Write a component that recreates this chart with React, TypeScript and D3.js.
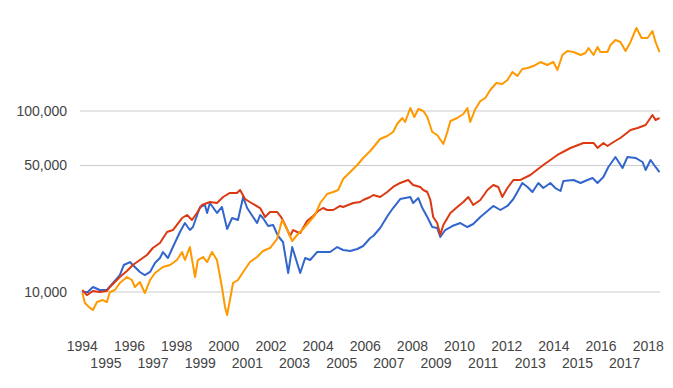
import React from 'react';
import * as d3 from 'd3';

const WIDTH = 673;
const HEIGHT = 388;

// [year, value], log scale
const seriesBlue: [number, number][] = [
  [1994.0, 10000], [1994.23, 10000], [1994.45, 10660], [1994.74, 10260], [1995.04, 10260],
  [1995.3, 11210], [1995.59, 12410], [1995.76, 14100], [1996.02, 14640], [1996.14, 14100],
  [1996.44, 12900], [1996.65, 12410], [1996.87, 12900], [1997.08, 14460], [1997.29, 15410],
  [1997.42, 16630], [1997.63, 15410], [1997.84, 17720], [1998.14, 21450], [1998.35, 24050],
  [1998.56, 22000], [1998.69, 22860], [1998.99, 29490], [1999.2, 30250], [1999.29, 27320],
  [1999.41, 31030], [1999.71, 27320], [1999.92, 29490], [2000.14, 22280], [2000.35, 25630],
  [2000.6, 24990], [2000.82, 33490], [2000.99, 29110], [2001.24, 25960], [2001.41, 24050],
  [2001.54, 26630], [2001.66, 25630], [2001.88, 23150], [2002.09, 23450], [2002.3, 20390],
  [2002.51, 18890], [2002.73, 12730], [2002.9, 17720], [2003.24, 12730], [2003.45, 15410],
  [2003.66, 15020], [2003.96, 16630], [2004.21, 16630], [2004.51, 16630], [2004.81, 17720],
  [2005.06, 17060], [2005.36, 16840], [2005.66, 17280], [2005.91, 17950], [2006.21, 19880],
  [2006.34, 20390], [2006.63, 22570], [2006.97, 26630], [2007.18, 29110], [2007.48, 32640],
  [2007.91, 33490], [2008.03, 31030], [2008.25, 33060], [2008.42, 29110], [2008.63, 25960],
  [2008.84, 22860], [2009.05, 22570], [2009.18, 20130], [2009.39, 22000], [2009.69, 23150],
  [2010.03, 24050], [2010.33, 22860], [2010.58, 23750], [2010.88, 25960], [2011.18, 28020],
  [2011.43, 29870], [2011.73, 28380], [2012.03, 29870], [2012.28, 32640], [2012.45, 35680],
  [2012.66, 40030], [2012.88, 38040], [2013.09, 35680], [2013.34, 40030], [2013.55, 37540],
  [2013.85, 40030], [2014.06, 37540], [2014.28, 36140], [2014.4, 41050], [2014.83, 41580],
  [2015.13, 40030], [2015.42, 41580], [2015.64, 42650], [2015.85, 40030], [2016.1, 43200],
  [2016.31, 49050], [2016.61, 55700], [2016.91, 48430], [2017.12, 55700], [2017.46, 55000],
  [2017.76, 52270], [2017.89, 47210], [2018.1, 53620], [2018.31, 49050], [2018.48, 46020],
];

const seriesRed: [number, number][] = [
  [1994.0, 10260], [1994.19, 9620], [1994.45, 10130], [1994.74, 10000], [1995.04, 10130],
  [1995.17, 10660], [1995.59, 12100], [1995.89, 13060], [1996.14, 14100], [1996.44, 15020],
  [1996.74, 16010], [1996.99, 17500], [1997.29, 18650], [1997.59, 21450], [1997.84, 22000],
  [1998.23, 25630], [1998.44, 26630], [1998.65, 24990], [1998.86, 27320], [1999.07, 30250],
  [1999.41, 31420], [1999.71, 31020], [1999.97, 33490], [2000.26, 35240], [2000.56, 35240],
  [2000.69, 36600], [2000.9, 32640], [2001.24, 30640], [2001.54, 29110], [2001.75, 25960],
  [2001.96, 27670], [2002.26, 27670], [2002.43, 25960], [2002.6, 23450], [2002.81, 20390],
  [2002.94, 22000], [2003.11, 21450], [2003.24, 21180], [2003.53, 24670], [2003.79, 26290],
  [2004.0, 28020], [2004.21, 29110], [2004.38, 28380], [2004.64, 28380], [2004.93, 29870],
  [2005.06, 29490], [2005.49, 31030], [2005.78, 31420], [2005.91, 32230], [2006.21, 33490],
  [2006.34, 34350], [2006.63, 33490], [2006.93, 35680], [2007.18, 38040], [2007.48, 40030],
  [2007.82, 41580], [2008.03, 39020], [2008.33, 38040], [2008.46, 36600], [2008.63, 35680],
  [2008.76, 32230], [2008.88, 25960], [2009.05, 24050], [2009.18, 20650], [2009.31, 23450],
  [2009.61, 27320], [2009.9, 29490], [2010.16, 31420], [2010.37, 33490], [2010.58, 30250],
  [2010.88, 32230], [2011.18, 36600], [2011.43, 39020], [2011.64, 38040], [2011.81, 33490],
  [2012.03, 37540], [2012.28, 41580], [2012.58, 41580], [2013.0, 44310], [2013.55, 50320],
  [2014.15, 57140], [2014.7, 62460], [2015.25, 66570], [2015.68, 66570], [2015.85, 62460],
  [2016.1, 66570], [2016.27, 64080], [2016.53, 67420], [2016.82, 70940], [2017.25, 78520],
  [2017.55, 80550], [2017.89, 83700], [2018.18, 95040], [2018.31, 89180], [2018.48, 91480],
];

const seriesOrange: [number, number][] = [
  [1994.0, 9870], [1994.11, 8700], [1994.32, 8170], [1994.45, 7960], [1994.62, 8800],
  [1994.87, 9030], [1995.04, 8800], [1995.17, 10000], [1995.38, 10260], [1995.59, 11210],
  [1995.89, 12100], [1996.1, 11650], [1996.23, 10660], [1996.44, 11360], [1996.65, 9870],
  [1996.87, 11650], [1997.08, 12730], [1997.42, 13750], [1997.72, 14100], [1998.01, 15020],
  [1998.23, 16630], [1998.35, 15020], [1998.56, 17720], [1998.78, 12100], [1998.9, 15020],
  [1999.12, 15610], [1999.29, 14640], [1999.5, 16630], [1999.71, 15020], [1999.92, 10660],
  [2000.05, 8270], [2000.14, 7460], [2000.26, 9030], [2000.39, 11210], [2000.6, 11650],
  [2000.82, 12900], [2001.11, 14640], [2001.41, 15610], [2001.66, 16840], [2001.96, 17500],
  [2002.26, 19630], [2002.47, 24990], [2002.68, 22280], [2002.9, 19130], [2003.11, 20650],
  [2003.36, 22280], [2003.58, 24050], [2003.87, 26630], [2004.09, 31030], [2004.38, 34790],
  [2004.64, 35680], [2004.85, 36600], [2005.06, 42110], [2005.36, 46020], [2005.66, 50320],
  [2005.91, 55000], [2006.21, 60120], [2006.63, 70040], [2006.93, 72770], [2007.18, 76550],
  [2007.35, 84770], [2007.57, 91480], [2007.69, 86940], [2007.91, 103900], [2008.08, 92650],
  [2008.25, 102600], [2008.46, 100000], [2008.63, 92650], [2008.84, 76550], [2009.05, 73700],
  [2009.31, 65730], [2009.48, 76550], [2009.61, 88050], [2009.9, 91480], [2010.16, 96260],
  [2010.33, 103900], [2010.45, 86940], [2010.67, 102600], [2010.88, 113500], [2011.09, 118000],
  [2011.3, 130600], [2011.56, 142800], [2011.81, 141000], [2012.03, 148400], [2012.24, 164300],
  [2012.45, 156100], [2012.66, 170700], [2012.88, 172800], [2013.13, 177200], [2013.43, 186500],
  [2013.72, 179500], [2013.98, 186500], [2014.15, 168500], [2014.36, 203900], [2014.57, 214600],
  [2014.83, 211800], [2015.13, 203900], [2015.34, 209200], [2015.47, 222900], [2015.68, 203900],
  [2015.85, 225700], [2015.97, 211800], [2016.27, 211800], [2016.4, 231500], [2016.61, 246800],
  [2016.82, 240600], [2017.04, 214600], [2017.25, 240600], [2017.5, 287500], [2017.72, 253200],
  [2017.97, 253200], [2018.18, 276800], [2018.31, 240600], [2018.48, 211800],
];

const yTicks = [10000, 50000, 100000];
const xTickYears = [
  1994, 1995, 1996, 1997, 1998, 1999, 2000, 2001, 2002, 2003, 2004, 2005, 2006,
  2007, 2008, 2009, 2010, 2011, 2012, 2013, 2014, 2015, 2016, 2017, 2018,
];

const series = [
  { name: 'blue', color: '#3366cc', data: seriesBlue },
  { name: 'red', color: '#dc3912', data: seriesRed },
  { name: 'orange', color: '#ff9900', data: seriesOrange },
];

const PLOT_LEFT = 80;
const PLOT_RIGHT = 660;

const App: React.FC = () => {
  const x = d3.scaleLinear().domain([1993.9, 2018.5]).range([PLOT_LEFT, PLOT_RIGHT]);
  const y = d3.scaleLog().domain([10000, 100000]).range([292, 111]);
  const fmt = d3.format(',');

  const line = d3
    .line<[number, number]>()
    .x(d => x(d[0]))
    .y(d => y(d[1]));

  return (
    <svg
      width={WIDTH}
      height={HEIGHT}
      style={{ position: 'absolute', left: 0, top: 0, background: '#fff' }}
      fontFamily="'Liberation Sans', Arial, sans-serif"
    >
      {yTicks.map(t => (
        <g key={t}>
          <line x1={PLOT_LEFT} x2={PLOT_RIGHT} y1={y(t)} y2={y(t)} stroke="#cccccc" strokeWidth={1} />
          <text x={67} y={y(t) + 5} textAnchor="end" fontSize={14} fill="#444">
            {fmt(t)}
          </text>
        </g>
      ))}

      {series.map(s => (
        <path
          key={s.name}
          d={line(s.data) || ''}
          fill="none"
          stroke={s.color}
          strokeWidth={2}
          strokeLinejoin="round"
        />
      ))}

      {xTickYears.map((yr, i) => (
        <text
          key={yr}
          x={x(yr)}
          y={i % 2 === 0 ? 350.5 : 368}
          textAnchor="middle"
          fontSize={14}
          fill="#444"
        >
          {yr}
        </text>
      ))}
    </svg>
  );
};

export default App;
